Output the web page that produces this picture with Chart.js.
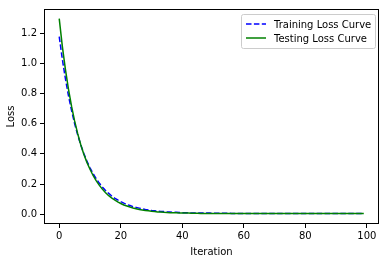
<!DOCTYPE html>
<html>
<head>
<meta charset="utf-8">
<script src="https://cdn.jsdelivr.net/npm/chart.js@4.4.1/dist/chart.umd.min.js"></script>
<style>
  html, body { margin: 0; padding: 0; background: #fff; }
  #wrap { width: 386px; height: 262px; }
</style>
</head>
<body>
<div id="wrap"><canvas id="chart" width="386" height="262"></canvas></div>
<script>
// loss values
const trainLoss = [
    1.176, 1.028, 0.899, 0.786, 0.688, 0.601, 0.526, 0.460, 0.402, 0.352,
    0.308, 0.270, 0.237, 0.207, 0.181, 0.159, 0.140, 0.123, 0.108, 0.095,
    0.084, 0.074, 0.065, 0.058, 0.051, 0.046, 0.041, 0.036, 0.032, 0.029,
    0.026, 0.024, 0.021, 0.019, 0.018, 0.016, 0.015, 0.014, 0.013, 0.012,
    0.011, 0.011, 0.010, 0.009, 0.009, 0.009, 0.008, 0.008, 0.008, 0.008,
    0.007, 0.007, 0.007, 0.007, 0.007, 0.007, 0.006, 0.006, 0.006, 0.006,
    0.006, 0.006, 0.006, 0.006, 0.006, 0.006, 0.006, 0.006, 0.006, 0.006,
    0.006, 0.006, 0.006, 0.006, 0.006, 0.006, 0.006, 0.006, 0.006, 0.006,
    0.006, 0.006, 0.006, 0.006, 0.006, 0.006, 0.006, 0.006, 0.006, 0.006,
    0.006, 0.006, 0.006, 0.006, 0.006, 0.006, 0.006, 0.006, 0.006, 0.006
];
const testLoss = [
    1.295, 1.113, 0.961, 0.829, 0.716, 0.618, 0.534, 0.461, 0.398, 0.344,
    0.298, 0.257, 0.223, 0.193, 0.167, 0.145, 0.125, 0.109, 0.095, 0.082,
    0.072, 0.062, 0.055, 0.048, 0.042, 0.037, 0.032, 0.029, 0.025, 0.023,
    0.020, 0.018, 0.016, 0.015, 0.013, 0.012, 0.011, 0.010, 0.010, 0.009,
    0.008, 0.008, 0.008, 0.007, 0.007, 0.007, 0.006, 0.006, 0.006, 0.006,
    0.006, 0.006, 0.006, 0.005, 0.005, 0.005, 0.005, 0.005, 0.005, 0.005,
    0.005, 0.005, 0.005, 0.005, 0.005, 0.005, 0.005, 0.005, 0.005, 0.005,
    0.005, 0.005, 0.005, 0.005, 0.005, 0.005, 0.005, 0.005, 0.005, 0.005,
    0.005, 0.005, 0.005, 0.005, 0.005, 0.005, 0.005, 0.005, 0.005, 0.005,
    0.005, 0.005, 0.005, 0.005, 0.005, 0.005, 0.005, 0.005, 0.005, 0.005
];
const iterations = trainLoss.map((_, i) => i);
const xTicks = [0, 20, 40, 60, 80, 100];
const yTicks = [0.0, 0.2, 0.4, 0.6, 0.8, 1.0, 1.2];

const FONT = 'DejaVu Sans';
Chart.defaults.font.family = FONT;
Chart.defaults.font.size = 10;
Chart.defaults.color = '#000';

// matplotlib-like frame round the plot
const frame = {
    id: 'frame',
    afterDatasetsDraw(chart) {
        const a = chart.chartArea;
        const c = chart.ctx;
        c.save();
        c.strokeStyle = '#000';
        c.lineWidth = 1;
        c.strokeRect(Math.round(a.left) + 0.5, Math.round(a.top) + 0.5,
            Math.round(a.right - a.left) - 1, Math.round(a.bottom - a.top) - 1);
        c.restore();
    }
};

// legend box in upper right corner
const boxLegend = {
    id: 'boxLegend',
    afterDraw(chart) {
        const a = chart.chartArea;
        const c = chart.ctx;
        const items = [chart.data.datasets[0], chart.data.datasets[1]];
        c.save();
        c.font = '10px ' + FONT;
        const w = 134, h = 34;
        const x = a.right - 4 - w, y = a.top + 5;
        c.fillStyle = 'rgba(255,255,255,0.8)';
        c.strokeStyle = '#cccccc';
        c.lineWidth = 1;
        c.beginPath();
        c.roundRect(x + 0.5, y + 0.5, w, h, 2);
        c.fill();
        c.stroke();
        items.forEach((ds, i) => {
            const ly = y + 10 + i * 14;
            c.strokeStyle = ds.borderColor;
            c.lineWidth = ds.borderWidth;
            c.setLineDash(ds.borderDash || []);
            c.beginPath();
            c.moveTo(x + 5, ly);
            c.lineTo(x + 25, ly);
            c.stroke();
            c.setLineDash([]);
            c.fillStyle = '#000';
            c.textBaseline = 'middle';
            c.fillText(ds.label, x + 33, ly + 1);
        });
        c.restore();
    }
};

const ctx = document.getElementById('chart').getContext('2d');
new Chart(ctx, {
    type: 'line',
    data: {
        labels: iterations,
        datasets: [
            {
                label: 'Training Loss Curve',
                data: trainLoss,
                borderColor: '#0000ff',
                borderWidth: 1.5,
                borderDash: [5.5, 2.4],
                pointRadius: 0,
                tension: 0,
                order: 1
            },
            {
                label: 'Testing Loss Curve',
                data: testLoss,
                borderColor: '#008000',
                borderWidth: 1.5,
                pointRadius: 0,
                tension: 0,
                order: 0
            }
        ]
    },
    options: {
        responsive: false,
        animation: false,
        layout: { padding: { top: 6, right: 7, left: 0, bottom: 0 } },
        plugins: {
            legend: { display: false },
            tooltip: { enabled: false }
        },
        scales: {
            x: {
                type: 'linear',
                min: -4.95,
                max: 103.95,
                afterBuildTicks: s => { s.ticks = xTicks.map(v => ({ value: v })); },
                afterFit: s => { s.height = 38; },
                grid: { drawOnChartArea: false, tickLength: 4, tickColor: '#000' },
                border: { display: false },
                ticks: { padding: 2, maxRotation: 0, color: '#000' },
                title: { display: true, text: 'Iteration', padding: { top: 0, bottom: 4 }, color: '#000' }
            },
            y: {
                min: -0.064,
                max: 1.359,
                afterBuildTicks: s => { s.ticks = yTicks.map(v => ({ value: v })); },
                afterFit: s => { s.width = 44; },
                grid: { drawOnChartArea: false, tickLength: 4, tickColor: '#000' },
                border: { display: false },
                ticks: { padding: 3, color: '#000', callback: v => v.toFixed(1) },
                title: { display: true, text: 'Loss', padding: { top: 5, bottom: 0 }, color: '#000' }
            }
        }
    },
    plugins: [frame, boxLegend]
});
</script>
</body>
</html>
